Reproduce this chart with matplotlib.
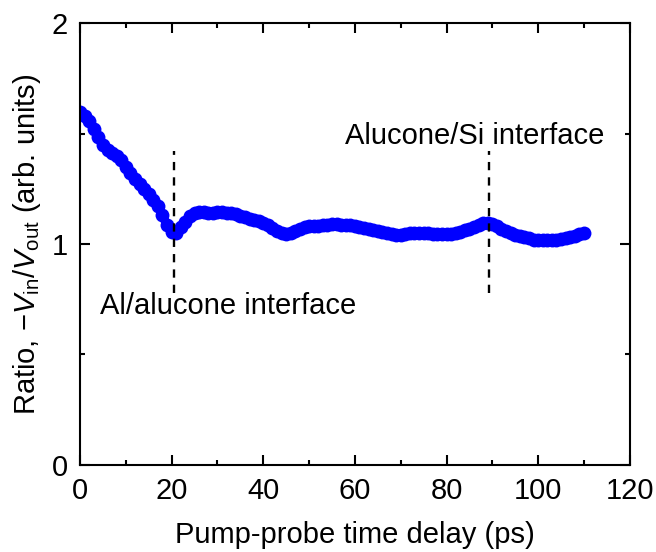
import numpy as np
import matplotlib
matplotlib.use("Agg")
import matplotlib.pyplot as plt

delay = np.arange(0, 111, 1.0)
ratio = [1.600, 1.580, 1.555, 1.520, 1.485, 1.450, 1.425, 1.412, 1.400, 1.380,
         1.350, 1.320, 1.295, 1.270, 1.250, 1.225, 1.200, 1.170, 1.130, 1.085,
         1.055, 1.050, 1.075, 1.100, 1.125, 1.140, 1.145, 1.143, 1.140, 1.142,
         1.145, 1.144, 1.142, 1.140, 1.135, 1.128, 1.122, 1.115, 1.110, 1.104,
         1.095, 1.085, 1.074, 1.060, 1.048, 1.045, 1.050, 1.060, 1.070, 1.076,
         1.080, 1.082, 1.083, 1.086, 1.088, 1.090, 1.089, 1.088, 1.087, 1.085,
         1.081, 1.077, 1.073, 1.068, 1.064, 1.060, 1.055, 1.050, 1.045, 1.042,
         1.041, 1.044, 1.048, 1.050, 1.050, 1.051, 1.048, 1.046, 1.044, 1.043,
         1.043, 1.046, 1.050, 1.055, 1.062, 1.068, 1.075, 1.085, 1.093, 1.095,
         1.090, 1.080, 1.070, 1.060, 1.050, 1.042, 1.035, 1.030, 1.025, 1.020,
         1.017, 1.016, 1.016, 1.017, 1.019, 1.022, 1.026, 1.030, 1.037, 1.043,
         1.050]

# interface markers (x position, y range)
interfaces = [20.5, 89.3]
iface_ymin, iface_ymax = 0.78, 1.42

plt.rcParams['font.family'] = ['Liberation Sans', 'DejaVu Sans']
plt.rcParams['mathtext.fontset'] = 'custom'
plt.rcParams['mathtext.rm'] = 'Liberation Sans'
plt.rcParams['mathtext.it'] = 'Liberation Sans:italic'
plt.rcParams['font.size'] = 21

fig = plt.figure(figsize=(6.56, 5.52), dpi=100)
ax = fig.add_axes([0.122, 0.158, 0.838, 0.800])

ax.plot(delay, ratio, '-', color='#0000ff', lw=6.5, solid_capstyle='round')
ax.plot(delay, ratio, 'o', color='#0000ff', markersize=10, markeredgewidth=0)

for xi in interfaces:
    ax.plot([xi, xi], [iface_ymin, iface_ymax], color='black', lw=1.7,
            ls=(0, (3.5, 3)))

ax.text(4.4, 0.72, 'Al/alucone interface', ha='left', va='center')
ax.text(57.9, 1.49, 'Alucone/Si interface', ha='left', va='center')

ax.set_xlim(0, 120)
ax.set_ylim(0, 2)
ax.set_xticks(np.arange(0, 121, 20))
ax.set_xticks(np.arange(0, 121, 10), minor=True)
ax.set_yticks([0, 1, 2])
ax.set_yticks([0.5, 1.5], minor=True)
ax.tick_params(which='both', direction='in', top=True, right=True, width=1.5)
ax.tick_params(which='major', length=7, pad=9)
ax.tick_params(which='minor', length=3.5)
for s in ax.spines.values():
    s.set_linewidth(1.5)

ax.set_xlabel('Pump-probe time delay (ps)', labelpad=11)
ax.set_ylabel(r'Ratio, $-V_{\mathrm{in}}/V_{\mathrm{out}}$ (arb. units)', labelpad=6)

fig.savefig('out.png', dpi=100)
